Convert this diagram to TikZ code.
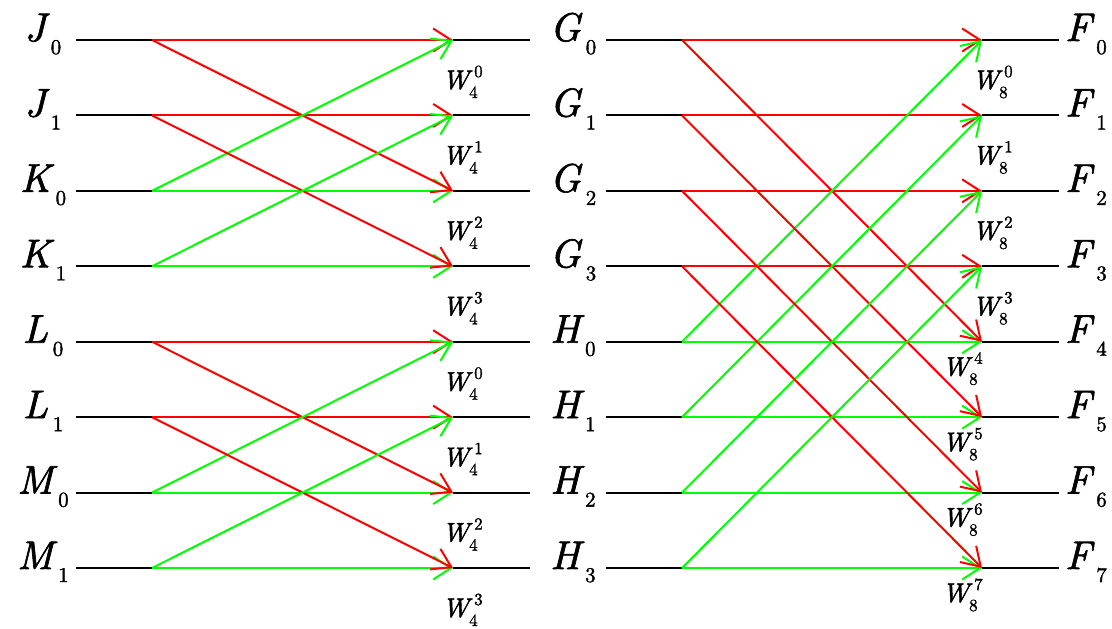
\documentclass[tikz,border=0pt]{standalone}
\usepackage{fontspec}
\newfontfamily\tms{lmroman10-regular.otf}[ItalicFont=lmroman10-italic.otf, FakeBold=1.6]
\usetikzlibrary{arrows.meta}
\definecolor{myred}{rgb}{1,0,0}
\definecolor{mygreen}{rgb}{0,1,0}
\newcommand{\lbl}[2]{{\tms\fontsize{40}{40}\selectfont\itshape #1}\kern5pt\raisebox{-13pt}{\tms\fontsize{21}{21}\selectfont #2}}
\newcommand{\wlab}[2]{{\tms\fontsize{27}{27}\selectfont\itshape W}\kern0pt\rlap{\kern5pt\raisebox{12pt}{\tms\fontsize{17}{17}\selectfont #2}}\raisebox{-9pt}{\tms\fontsize{17}{17}\selectfont #1}}
\begin{document}
\begin{tikzpicture}[x=1pt,y=-1pt,
  blk/.style={line width=2pt,black},
  rarr/.style={line width=2pt,myred,-{Straight Barb[length=18pt,width=23pt]}},
  garr/.style={line width=2pt,mygreen,-{Straight Barb[length=18pt,width=23pt]}},
  lab/.style={anchor=base,inner sep=0pt},
  wl/.style={anchor=base west,inner sep=0pt}]
\useasboundingbox (0,0) rectangle (1112,629);
\foreach \i in {0,...,7} {
  \pgfmathsetmacro\yy{40+75.43*\i}
  \coordinate (a\i) at (76,\yy);
  \coordinate (b\i) at (152,\yy);
  \coordinate (c\i) at (453,\yy);
  \coordinate (d\i) at (530,\yy);
  \coordinate (e\i) at (606,\yy);
  \coordinate (f\i) at (682,\yy);
  \coordinate (g\i) at (982,\yy);
  \coordinate (h\i) at (1059,\yy);
}
% left labels
\foreach \i/\L/\s in {0/J/0,1/J/1,2/K/0,3/K/1,4/L/0,5/L/1,6/M/0,7/M/1} {
  \pgfmathsetmacro\yy{41+75.43*\i}
  \node[lab] (in\i) at (43,\yy) {\lbl{\L}{\s}};
}
\foreach \i/\L/\s in {0/G/0,1/G/1,2/G/2,3/G/3,4/H/0,5/H/1,6/H/2,7/H/3} {
  \pgfmathsetmacro\yy{41+75.43*\i}
  \node[lab] (mid\i) at (573,\yy) {\lbl{\L}{\s}};
}
\foreach \i in {0,...,7} {
  \pgfmathsetmacro\yy{41+75.43*\i}
  \node[lab] (out\i) at (1086,\yy) {\lbl{F}{\i}};
}
% twiddle labels
\foreach \i/\k in {0/0,1/1,2/2,3/3,4/0,5/1,6/2,7/3} {
  \pgfmathsetmacro\yy{89+75.43*\i}
  \node[wl] (wa\i) at (442,\yy) {\wlab{4}{\k}};
}
\foreach \i in {0,...,3} {
  \pgfmathsetmacro\yy{89+75.43*\i}
  \node[wl] (wb\i) at (972,\yy) {\wlab{8}{\i}};
}
\foreach \i in {4,...,7} {
  \pgfmathsetmacro\yy{74+75.43*\i}
  \node[wl] (wb\i) at (942,\yy) {\wlab{8}{\i}};
}
% black lines
\foreach \i in {0,...,7} {
  \draw[blk] (a\i) -- (b\i);
  \draw[blk] (c\i) -- (d\i);
  \draw[blk] (e\i) -- (f\i);
  \draw[blk] (g\i) -- (h\i);
}
% horizontals
\foreach \p in {0,1,4,5} {
  \pgfmathtruncatemacro\q{\p+2}
  \draw[rarr] (b\p) -- (c\p);
  \draw[garr] (b\q) -- (c\q);
}
\foreach \p in {0,...,3} {
  \pgfmathtruncatemacro\q{\p+4}
  \draw[rarr] (f\p) -- (g\p);
  \draw[garr] (f\q) -- (g\q);
}
% diagonals
\foreach \p in {0,1,4,5} {
  \pgfmathtruncatemacro\q{\p+2}
  \draw[rarr] (b\p) -- (c\q);
  \draw[garr] (b\q) -- (c\p);
}
\foreach \p in {0,...,3} {
  \pgfmathtruncatemacro\q{\p+4}
  \draw[rarr] (f\p) -- (g\q);
  \draw[garr] (f\q) -- (g\p);
}
\end{tikzpicture}
\end{document}
